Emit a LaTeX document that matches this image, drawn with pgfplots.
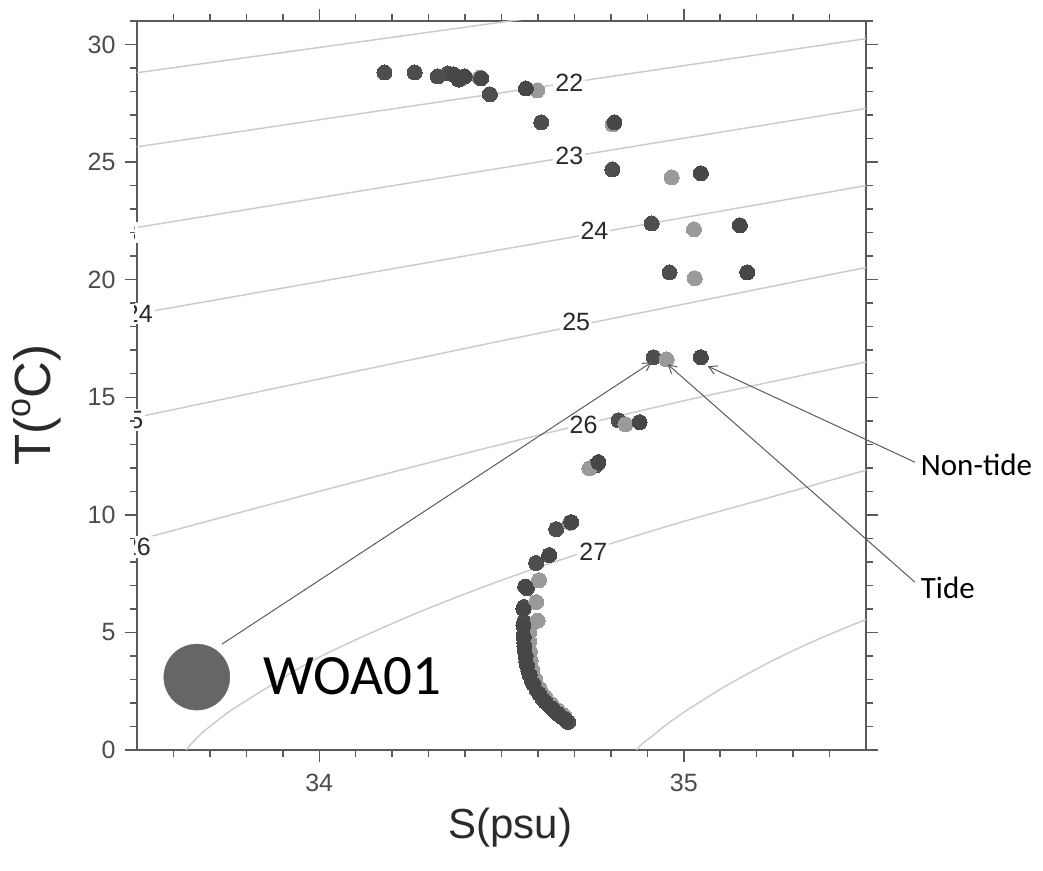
\documentclass[border=0pt]{standalone}
\usepackage{pgfplots}
\pgfplotsset{compat=1.18}
\usepackage{fontspec}
\setmainfont{Liberation Sans}
\newfontfamily\calib{Carlito}
\usetikzlibrary{arrows.meta}
\definecolor{axgray}{HTML}{5A5A5A}
\definecolor{isogray}{HTML}{CCCCCC}
\definecolor{woacol}{HTML}{4E4E4E}
\definecolor{tidecol}{HTML}{9A9A9A}
\definecolor{noncol}{HTML}{474747}
\definecolor{legcol}{HTML}{666666}
\definecolor{labcol}{HTML}{2A2A2A}
\begin{document}
\begin{tikzpicture}
\begin{axis}[
  scale only axis, width=729pt, height=729pt,
  xmin=33.5, xmax=35.5, ymin=0, ymax=31,
  xtick={34,35}, ytick={0,5,10,15,20,25,30},
  minor xtick={33.6,33.7,33.8,33.9,34.1,34.2,34.3,34.4,34.5,34.6,34.7,34.8,34.9,35.1,35.2,35.3,35.4},
  minor ytick={1,2,3,4,6,7,8,9,11,12,13,14,16,17,18,19,21,22,23,24,26,27,28,29,31},
  tick pos=both, tick align=outside,
  major tick length=12pt, minor tick length=7pt,
  every tick/.style={axgray, line width=1.5pt},
  axis line style={axgray, line width=2.5pt},
  ticklabel style={font=\fontsize{25}{29}\selectfont, color=axgray!85!black},
  xticklabel style={yshift=-9pt},
  yticklabel style={xshift=-6pt},
  /pgf/number format/assume math mode=true,
  xlabel={S(psu)}, ylabel={T(\raisebox{0.40em}{\fontsize{34}{34}\selectfont o}C)},
  label style={color=labcol},
  xlabel style={font=\fontsize{42}{48}\selectfont, at={(rel axis cs:0.512,-0.107)}, anchor=center},
  ylabel style={font=\fontsize{51}{56}\selectfont, at={(rel axis cs:-0.138,0.473)}, anchor=center},
  clip mode=individual,
  legend style={at={(axis cs:33.573,3.10)}, anchor=west, draw=none, fill=none,
    inner sep=0pt, outer sep=0pt, column sep=33pt,
    nodes={inner sep=0pt},
    font=\calib\fontsize{57}{60}\selectfont},
]
% isopycnals
\addplot[isogray, line width=1.5pt, forget plot] coordinates {(33.5,28.8) (34.5,30.95) (35.5,33.1)};
\addplot[isogray, line width=1.5pt, forget plot] coordinates {(33.5,25.65) (34.5,27.95) (35.5,30.25)};
\addplot[isogray, line width=1.5pt, forget plot] coordinates {(33.5,22.22) (34.5,24.75) (35.5,27.28)};
\addplot[isogray, line width=1.5pt, forget plot] coordinates {(33.5,18.55) (34.5,21.28) (35.5,24.0)};
\addplot[isogray, line width=1.5pt, forget plot] coordinates {(33.5,14.15) (34.5,17.4) (35.5,20.52)};
\addplot[isogray, line width=1.5pt, forget plot, smooth] coordinates {(33.5,8.92) (34.0,11.0) (34.5,13.0) (35.0,14.85) (35.5,16.5)};
\addplot[isogray, line width=1.5pt, forget plot, smooth] coordinates {(33.635,0) (33.65,0.28) (33.68,0.75) (33.7,1.0) (33.75,1.6) (33.8,2.1) (33.85,2.58) (34.0,3.95) (34.25,5.71) (34.5,7.22) (34.75,8.53) (35.0,9.72) (35.25,10.8) (35.5,11.9)};
\addplot[isogray, line width=1.5pt, forget plot, smooth] coordinates {(34.87,0) (34.885,0.25) (34.92,0.67) (34.95,1.05) (35.0,1.6) (35.0625,2.22) (35.125,2.81) (35.25,3.85) (35.375,4.75) (35.5,5.55)};
% WOA01
\addplot[woacol, only marks, mark=*, mark size=7.5pt, mark options={fill=woacol, draw=woacol, line width=0pt},
  legend image code/.code={\fill[legcol] (33pt,0pt) circle[radius=33pt];}] coordinates {
(34.179,28.81) (34.262,28.81) (34.325,28.64) (34.353,28.77) (34.468,27.88) (34.609,26.69)
(34.804,24.69) (34.912,22.39) (34.961,20.31) (34.917,16.70) (34.821,14.02) (34.760,12.11)
(34.650,9.39) (34.595,7.95) (34.570,6.88) (34.562,6.08) (34.562,5.44) (34.562,4.95)
(34.563,4.55) (34.565,4.15) (34.568,3.75) (34.574,3.35) (34.583,2.95) (34.597,2.55)
(34.612,2.2) (34.630,1.9) (34.650,1.6) (34.668,1.38) (34.683,1.19)};
\addlegendentry{WOA01}
% Tide
\addplot[tidecol, only marks, mark=*, mark size=7.5pt, mark options={fill=tidecol, draw=tidecol, line width=0pt}, forget plot] coordinates {
(34.37,28.70) (34.39,28.55) (34.44,28.58) (34.598,28.05) (34.805,26.60) (34.967,24.35)
(35.028,22.14) (35.030,20.06) (34.953,16.61) (34.840,13.85) (34.741,11.98) (34.688,9.66)
(34.603,7.22) (34.595,6.29) (34.599,5.50) (34.576,5.00) (34.576,4.60) (34.578,4.20)
(34.580,3.80) (34.585,3.40) (34.593,3.00) (34.605,2.60) (34.620,2.25) (34.637,1.95)
(34.655,1.68) (34.672,1.45)};
% Non-tide
\addplot[noncol, only marks, mark=*, mark size=7.5pt, mark options={fill=noncol, draw=noncol, line width=0pt}, forget plot] coordinates {
(34.369,28.73) (34.383,28.51) (34.399,28.64) (34.444,28.56) (34.567,28.13) (34.810,26.69)
(35.047,24.52) (35.154,22.31) (35.174,20.31) (35.047,16.70) (34.879,13.94) (34.766,12.24)
(34.691,9.69) (34.631,8.29) (34.565,6.95) (34.560,6.0) (34.560,5.3) (34.561,4.8)
(34.563,4.4) (34.566,4.0) (34.570,3.6) (34.577,3.2) (34.588,2.8) (34.603,2.4)
(34.620,2.05) (34.640,1.75) (34.658,1.5) (34.676,1.28)};
% contour labels
\begin{scope}[every node/.style={fill=white, inner sep=2pt, text=labcol, font=\fontsize{25}{28}\selectfont}]
\node at (axis cs:34.686,28.39) {22};
\node at (axis cs:34.686,25.28) {23};
\node at (axis cs:34.755,22.10) {24};
\node at (axis cs:34.705,18.19) {25};
\node at (axis cs:34.725,13.81) {26};
\node at (axis cs:34.752,8.45) {27};
\end{scope}
\begin{scope}
\clip ([xshift=-2pt]rel axis cs:0,0) rectangle (rel axis cs:1,1);
\begin{scope}[every node/.style={fill=white, inner sep=2pt, text=labcol, font=\fontsize{25}{28}\selectfont}]
\node at (axis cs:33.505,18.57) {24};
\node at (axis cs:33.479,14.02) {25};
\node at (axis cs:33.50,8.63) {26};
\node at (axis cs:33.46,22.0) {23};
\end{scope}
\end{scope}
% arrows
\draw[axgray, line width=1pt, -{Straight Barb[length=8pt,width=9pt]}] (axis cs:33.733,4.50) -- (axis cs:34.912,16.49);
\draw[axgray, line width=1pt, -{Straight Barb[length=8pt,width=9pt]}] (axis cs:35.634,7.14) -- (axis cs:34.956,16.40);
\draw[axgray, line width=1pt, -{Straight Barb[length=8pt,width=9pt]}] (axis cs:35.634,12.24) -- (axis cs:35.066,16.32);
\node[anchor=west, inner sep=0pt, font=\calib\fontsize{31}{36}\selectfont] at (axis cs:35.650,12.11) {Non-tide};
\node[anchor=west, inner sep=0pt, font=\calib\fontsize{31}{36}\selectfont] at (axis cs:35.650,6.88) {Tide};
% bounding box
\path ([xshift=-137pt,yshift=-121pt]rel axis cs:0,0) rectangle ([xshift=177pt,yshift=21pt]rel axis cs:1,1);
\end{axis}
\end{tikzpicture}
\end{document}
